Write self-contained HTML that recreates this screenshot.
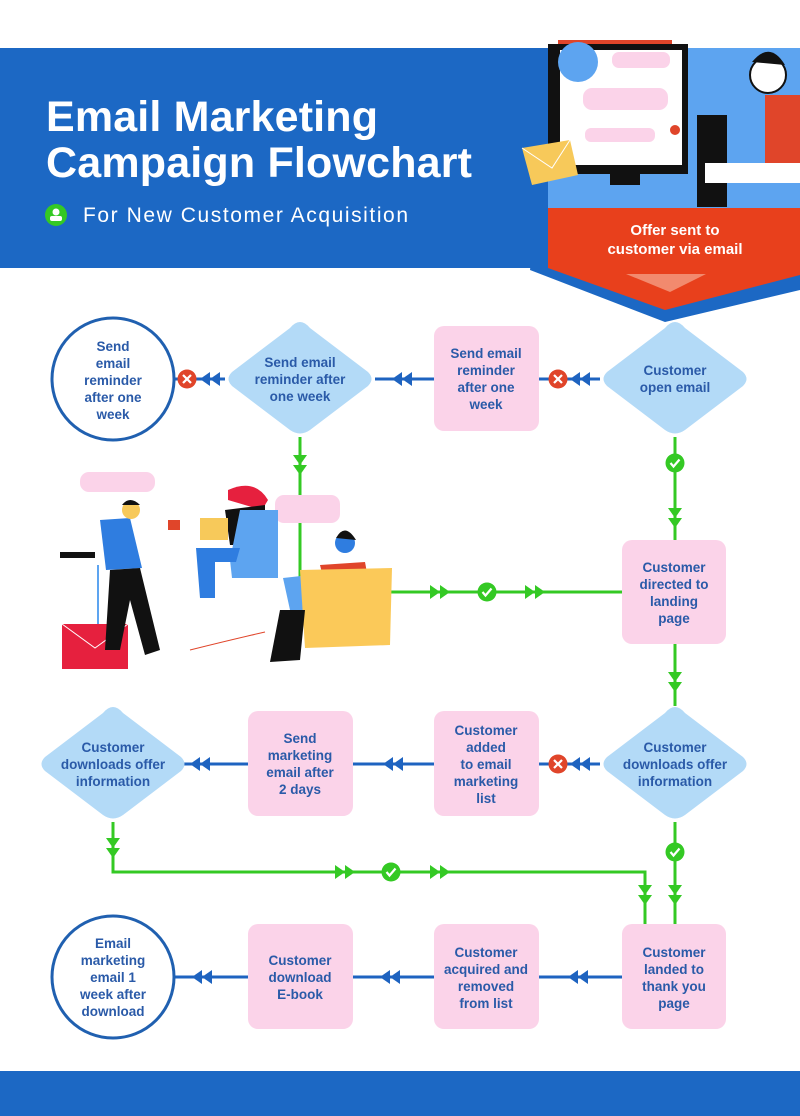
<!DOCTYPE html>
<html><head><meta charset="utf-8"><style>
html,body{margin:0;padding:0;background:#fff}
svg{display:block}
text{font-family:"Liberation Sans",sans-serif}
.n{font-size:13.5px;font-weight:bold;fill:#2a5aa8;text-anchor:middle}
</style></head><body>
<svg width="800" height="1116" viewBox="0 0 800 1116" xmlns="http://www.w3.org/2000/svg">
<defs>
<g id="dl"><polygon points="0,0 10,-7 10,7" fill="#1e63c0"/><polygon points="10,0 20,-7 20,7" fill="#1e63c0"/></g>
<g id="dd"><polygon points="0,0 -7,-10 7,-10" fill="#34c924"/><polygon points="0,10 -7,0 7,0" fill="#34c924"/></g>
<g id="dr"><polygon points="0,0 -10,-7 -10,7" fill="#34c924"/><polygon points="10,0 0,-7 0,7" fill="#34c924"/></g>
<g id="x"><circle r="9.5" fill="#e0452a"/><path d="M-4,-4 L4,4 M4,-4 L-4,4" stroke="#fff" stroke-width="2.2"/></g>
<g id="ck"><circle r="9.5" fill="#34c924"/><path d="M-4.5,0 L-1.5,3.5 L4.5,-3.5" stroke="#fff" stroke-width="2.2" fill="none"/></g>
</defs>
<!-- header -->
<rect x="0" y="48" width="800" height="220" fill="#1c68c4"/>
<text x="46" y="131" font-size="43" font-weight="bold" fill="#fff" textLength="332">Email Marketing</text>
<text x="46" y="177" font-size="43" font-weight="bold" fill="#fff" textLength="426">Campaign Flowchart</text>
<circle cx="56" cy="215" r="11" fill="#34c924"/><circle cx="56" cy="212" r="3.5" fill="#fff"/><rect x="50" y="216" width="12" height="5" rx="2" fill="#fff"/>
<text x="83" y="222" font-size="21" fill="#fff" textLength="325">For New Customer Acquisition</text>
<!-- badge -->
<polygon points="538,200 800,200 800,290 665,322 530,270" fill="#1c68c4"/>
<polygon points="548,200 800,200 800,275 665,310 548,268" fill="#e8401c"/>
<polygon points="626,274 706,274 670,292" fill="#f28a6e"/>
<text x="675" y="235" font-size="15" font-weight="bold" fill="#fff" text-anchor="middle">Offer sent to</text>
<text x="675" y="254" font-size="15" font-weight="bold" fill="#fff" text-anchor="middle">customer via email</text>
<!-- illustration header -->
<rect x="548" y="48" width="252" height="160" fill="#5da4f0"/>
<rect x="558" y="40" width="114" height="4" fill="#e0452a"/>
<rect x="548" y="44" width="140" height="130" fill="#111"/>
<rect x="560" y="50" width="122" height="115" fill="#fff"/>
<circle cx="578" cy="62" r="20" fill="#5da4f0"/>
<rect x="612" y="52" width="58" height="16" rx="7" fill="#fbd3e9"/>
<rect x="583" y="88" width="85" height="22" rx="9" fill="#fbd3e9"/>
<rect x="585" y="128" width="70" height="14" rx="6" fill="#fbd3e9"/>
<circle cx="675" cy="130" r="5" fill="#e0452a"/>
<rect x="610" y="165" width="30" height="20" fill="#111"/>
<rect x="697" y="115" width="30" height="92" fill="#111"/>
<rect x="765" y="95" width="35" height="75" fill="#e0452a"/>
<circle cx="768" cy="75" r="18" fill="#fff" stroke="#111" stroke-width="2"/>
<path d="M752,62 Q770,40 785,65" fill="#111"/>
<rect x="705" y="163" width="95" height="20" fill="#fff"/>
<polygon points="522,148 570,140 578,175 532,185" fill="#f7c95a"/>
<path d="M522,148 L552,168 L570,140" stroke="#fff" fill="none"/>
<!-- connectors row1 -->
<line x1="175" y1="379" x2="225" y2="379" stroke="#1e63c0" stroke-width="3"/>
<use href="#dl" x="200" y="379"/><use href="#x" x="187" y="379"/>
<line x1="375" y1="379" x2="434" y2="379" stroke="#1e63c0" stroke-width="3"/>
<use href="#dl" x="392" y="379"/>
<line x1="539" y1="379" x2="600" y2="379" stroke="#1e63c0" stroke-width="3"/>
<use href="#dl" x="570" y="379"/><use href="#x" x="558" y="379"/>
<!-- green -->
<line x1="300" y1="437" x2="300" y2="592" stroke="#34c924" stroke-width="3"/>
<use href="#dd" x="300" y="465"/>
<line x1="300" y1="592" x2="622" y2="592" stroke="#34c924" stroke-width="3"/>
<use href="#dr" x="440" y="592"/><use href="#dr" x="535" y="592"/><use href="#ck" x="487" y="592"/>
<line x1="675" y1="437" x2="675" y2="540" stroke="#34c924" stroke-width="3"/>
<use href="#ck" x="675" y="463"/><use href="#dd" x="675" y="518"/>
<line x1="675" y1="644" x2="675" y2="706" stroke="#34c924" stroke-width="3"/>
<use href="#dd" x="675" y="682"/>
<line x1="675" y1="822" x2="675" y2="924" stroke="#34c924" stroke-width="3"/>
<use href="#ck" x="675" y="852"/><use href="#dd" x="675" y="895"/>
<polyline points="113,822 113,872 645,872 645,924" fill="none" stroke="#34c924" stroke-width="3"/>
<use href="#dd" x="113" y="848"/><use href="#dr" x="345" y="872"/><use href="#dr" x="440" y="872"/><use href="#ck" x="391" y="872"/><use href="#dd" x="645" y="895"/>
<!-- row3 -->
<line x1="170" y1="764" x2="248" y2="764" stroke="#1e63c0" stroke-width="3"/>
<use href="#dl" x="190" y="764"/>
<line x1="353" y1="764" x2="434" y2="764" stroke="#1e63c0" stroke-width="3"/>
<use href="#dl" x="383" y="764"/>
<line x1="539" y1="764" x2="600" y2="764" stroke="#1e63c0" stroke-width="3"/>
<use href="#dl" x="570" y="764"/><use href="#x" x="558" y="764"/>
<!-- row4 -->
<line x1="175" y1="977" x2="248" y2="977" stroke="#1e63c0" stroke-width="3"/>
<use href="#dl" x="192" y="977"/>
<line x1="353" y1="977" x2="434" y2="977" stroke="#1e63c0" stroke-width="3"/>
<use href="#dl" x="380" y="977"/>
<line x1="539" y1="977" x2="622" y2="977" stroke="#1e63c0" stroke-width="3"/>
<use href="#dl" x="568" y="977"/>
<!-- nodes row1 -->
<circle cx="113" cy="379" r="61" fill="#fff" stroke="#2060b0" stroke-width="3"/>
<text class="n"><tspan x="113" y="351">Send</tspan><tspan x="113" y="368">email</tspan><tspan x="113" y="385">reminder</tspan><tspan x="113" y="402">after one</tspan><tspan x="113" y="419">week</tspan></text>
<path d="M300,322 Q305,322 310,328 L368,372 Q375,379 368,386 L310,430 Q300,437 290,430 L232,386 Q225,379 232,372 L290,328 Q295,322 300,322Z" fill="#b3daf7"/>
<text class="n"><tspan x="300" y="367">Send email</tspan><tspan x="300" y="384">reminder after</tspan><tspan x="300" y="401">one week</tspan></text>
<rect x="434" y="326" width="105" height="105" rx="10" fill="#fbd3e9"/>
<text class="n"><tspan x="486" y="358">Send email</tspan><tspan x="486" y="375">reminder</tspan><tspan x="486" y="392">after one</tspan><tspan x="486" y="409">week</tspan></text>
<path d="M675,322 Q680,322 685,328 L743,372 Q750,379 743,386 L685,430 Q675,437 665,430 L607,386 Q600,379 607,372 L665,328 Q670,322 675,322Z" fill="#b3daf7"/>
<text class="n"><tspan x="675" y="375">Customer</tspan><tspan x="675" y="392">open email</tspan></text>
<!-- row2 -->
<rect x="622" y="540" width="104" height="104" rx="10" fill="#fbd3e9"/>
<text class="n"><tspan x="674" y="572">Customer</tspan><tspan x="674" y="589">directed to</tspan><tspan x="674" y="606">landing</tspan><tspan x="674" y="623">page</tspan></text>
<!-- row3 nodes -->
<path d="M113,707 Q118,707 123,713 L181,757 Q188,764 181,771 L123,815 Q113,822 103,815 L45,771 Q38,764 45,757 L103,713 Q108,707 113,707Z" fill="#b3daf7"/>
<text class="n"><tspan x="113" y="752">Customer</tspan><tspan x="113" y="769">downloads offer</tspan><tspan x="113" y="786">information</tspan></text>
<rect x="248" y="711" width="105" height="105" rx="10" fill="#fbd3e9"/>
<text class="n"><tspan x="300" y="743">Send</tspan><tspan x="300" y="760">marketing</tspan><tspan x="300" y="777">email after</tspan><tspan x="300" y="794">2 days</tspan></text>
<rect x="434" y="711" width="105" height="105" rx="10" fill="#fbd3e9"/>
<text class="n"><tspan x="486" y="735">Customer</tspan><tspan x="486" y="752">added</tspan><tspan x="486" y="769">to email</tspan><tspan x="486" y="786">marketing</tspan><tspan x="486" y="803">list</tspan></text>
<path d="M675,707 Q680,707 685,713 L743,757 Q750,764 743,771 L685,815 Q675,822 665,815 L607,771 Q600,764 607,757 L665,713 Q670,707 675,707Z" fill="#b3daf7"/>
<text class="n"><tspan x="675" y="752">Customer</tspan><tspan x="675" y="769">downloads offer</tspan><tspan x="675" y="786">information</tspan></text>
<!-- row4 nodes -->
<circle cx="113" cy="977" r="61" fill="#fff" stroke="#2060b0" stroke-width="3"/>
<text class="n"><tspan x="113" y="948">Email</tspan><tspan x="113" y="965">marketing</tspan><tspan x="113" y="982">email 1</tspan><tspan x="113" y="999">week after</tspan><tspan x="113" y="1016">download</tspan></text>
<rect x="248" y="924" width="105" height="105" rx="10" fill="#fbd3e9"/>
<text class="n"><tspan x="300" y="965">Customer</tspan><tspan x="300" y="982">download</tspan><tspan x="300" y="999">E-book</tspan></text>
<rect x="434" y="924" width="105" height="105" rx="10" fill="#fbd3e9"/>
<text class="n"><tspan x="486" y="957">Customer</tspan><tspan x="486" y="974">acquired and</tspan><tspan x="486" y="991">removed</tspan><tspan x="486" y="1008">from list</tspan></text>
<rect x="622" y="924" width="104" height="105" rx="10" fill="#fbd3e9"/>
<text class="n"><tspan x="674" y="957">Customer</tspan><tspan x="674" y="974">landed to</tspan><tspan x="674" y="991">thank you</tspan><tspan x="674" y="1008">page</tspan></text>
<!-- illustration middle -->
<rect x="80" y="472" width="75" height="20" rx="9" fill="#fbd3e9"/>
<rect x="275" y="495" width="65" height="28" rx="9" fill="#fbd3e9"/>
<rect x="60" y="552" width="35" height="6" fill="#111"/>
<line x1="98" y1="565" x2="98" y2="625" stroke="#5da4f0" stroke-width="2"/>
<rect x="62" y="624" width="66" height="45" fill="#e6203e"/>
<path d="M62,624 L95,648 L128,624" stroke="#fff" fill="none"/>
<polygon points="100,520 130,518 142,568 106,570" fill="#2f7de0"/>
<circle cx="131" cy="510" r="9" fill="#f7c95a"/><path d="M122,505 Q130,495 140,505" fill="#111"/>
<polygon points="110,570 140,568 160,650 145,655 130,600 120,650 105,650" fill="#111"/>
<rect x="168" y="520" width="12" height="10" fill="#e0452a"/>
<path d="M228,490 Q255,478 268,500 L262,510 Q245,505 228,500Z" fill="#e6203e"/>
<polygon points="225,510 265,505 265,545 230,545" fill="#111"/>
<rect x="200" y="518" width="28" height="22" fill="#f7c95a"/>
<polygon points="240,510 278,510 278,578 232,578 230,560" fill="#5da4f0"/>
<polygon points="196,548 240,548 236,562 215,562 215,598 200,598" fill="#2f7de0"/>
<circle cx="345" cy="543" r="10" fill="#2f7de0"/><path d="M336,538 Q345,522 356,540" fill="#111"/>
<polygon points="320,565 365,562 372,600 330,605" fill="#e0452a"/>
<polygon points="283,578 310,575 320,615 290,610" fill="#5da4f0"/>
<polygon points="300,570 392,568 390,645 305,648" fill="#fbc959"/>
<polygon points="280,610 305,610 300,660 270,662" fill="#111"/>
<path d="M190,650 Q230,640 265,632" stroke="#e0452a" fill="none"/>
<!-- footer -->
<rect x="0" y="1071" width="800" height="45" fill="#1c68c4"/>
</svg>
</body></html>
